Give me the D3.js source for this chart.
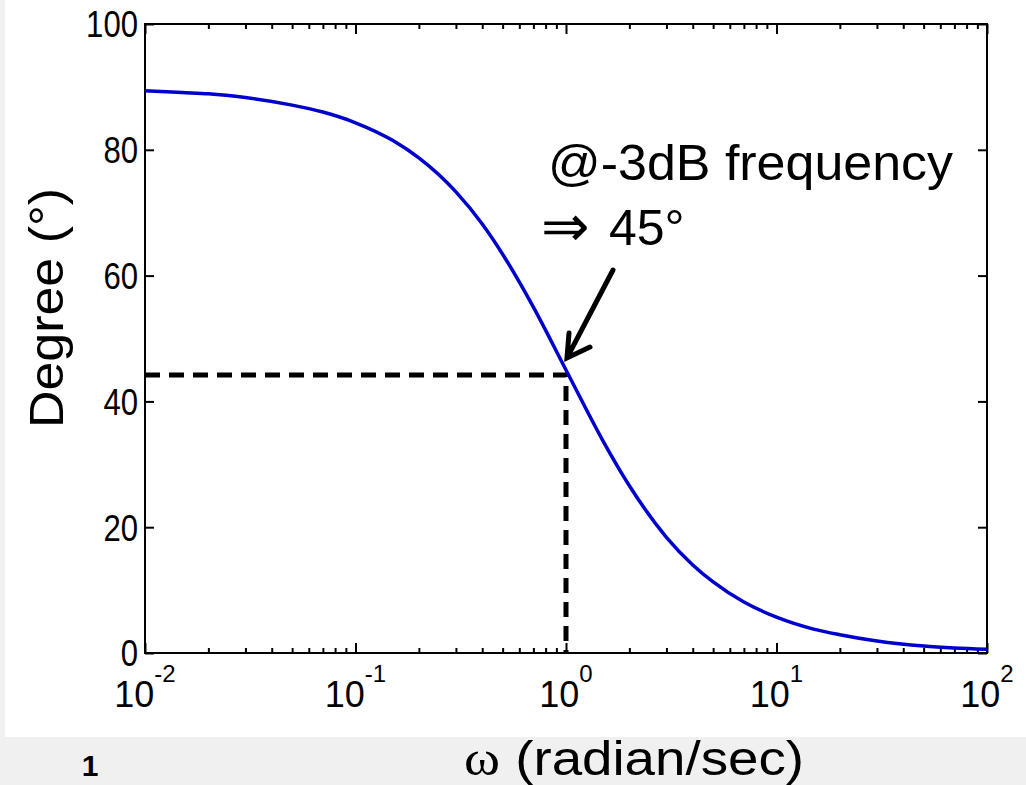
<!DOCTYPE html>
<html>
<head>
<meta charset="utf-8">
<script src="https://cdn.jsdelivr.net/npm/d3@7"></script>
<style>
  body { margin: 0; background: #f0f0f0; }
  svg { display: block; }
  .tick text { font-family: "Liberation Sans", Arial, sans-serif; }
</style>
</head>
<body>
<div id="chart"></div>
<script>
// frequency (rad/s) and phase (degrees)
var omega  = [0.01, 0.015, 0.02, 0.03, 0.05, 0.07, 0.1, 0.15, 0.2, 0.3, 0.4, 0.5, 0.7, 1,
              1.5, 2, 3, 4, 5, 7, 10, 15, 20, 30, 50, 70, 100];
var degree = [89.4, 89.1, 88.9, 88.3, 87.1, 86.0, 84.3, 81.5, 78.7, 73.3, 68.2, 63.4, 55.0, 45.0,
              33.7, 26.6, 18.4, 14.0, 11.3, 8.1, 5.7, 3.8, 2.9, 1.9, 1.1, 0.8, 0.6];

var xMajor = [0.01, 0.1, 1, 10, 100];
var xExp   = ["-2", "-1", "0", "1", "2"];
var yTicks = [0, 20, 40, 60, 80, 100];

// dashed guide at the -3dB point
var cutoff = { w: 1, deg: 44.2 };

var W = 1026, H = 785;
var margin = { top: 24, right: 39, bottom: 132, left: 145 },
    width = W - margin.left - margin.right,
    height = H - margin.top - margin.bottom;

var svg = d3.select("#chart").append("svg")
    .attr("width", W)
    .attr("height", H);

// white figure panel
svg.append("rect")
    .attr("x", 5).attr("y", 0)
    .attr("width", W - 5).attr("height", 737)
    .attr("fill", "#fff");

var g = svg.append("g")
    .attr("transform", "translate(" + margin.left + "," + margin.top + ")");

var x = d3.scaleLog().domain([0.01, 100]).range([0, width]);
var y = d3.scaleLinear().domain([0, 100]).range([height, 0]);

var minor = x.ticks().filter(function (d) { return xMajor.indexOf(d) < 0; });

// ticks point inward on all four sides
function styleAxis(sel) {
    sel.selectAll("path").remove();
    sel.selectAll("line").attr("stroke", "#000").attr("stroke-width", 2);
}

g.append("g").attr("transform", "translate(0," + height + ")")
    .call(d3.axisBottom(x).tickValues(minor).tickSize(-5).tickFormat(""))
    .call(styleAxis);
g.append("g").attr("transform", "translate(0," + height + ")")
    .call(d3.axisBottom(x).tickValues(xMajor).tickSize(-10).tickFormat(""))
    .call(styleAxis);
g.append("g")
    .call(d3.axisTop(x).tickValues(minor).tickSize(-5).tickFormat(""))
    .call(styleAxis);
g.append("g")
    .call(d3.axisTop(x).tickValues(xMajor).tickSize(-10).tickFormat(""))
    .call(styleAxis);

g.append("g")
    .call(d3.axisLeft(y).tickValues(yTicks).tickSize(-9).tickPadding(7))
    .call(styleAxis)
    .selectAll("text")
    .attr("font-size", 36)
    .attr("fill", "#000")
    .attr("dy", "0.36em")
    .attr("textLength", function (d) { return String(d).length * 17.3; })
    .attr("lengthAdjust", "spacingAndGlyphs");
g.append("g").attr("transform", "translate(" + width + ",0)")
    .call(d3.axisRight(y).tickValues(yTicks).tickSize(-9).tickFormat(""))
    .call(styleAxis);

// x labels as 10 with superscript
var xl = g.append("g").selectAll("text")
    .data(xMajor)
    .enter().append("text")
    .attr("x", function (d) { return x(d); })
    .attr("y", height + 54)
    .attr("text-anchor", "middle")
    .attr("font-family", "'Liberation Sans', Arial, sans-serif")
    .attr("font-size", 36);
xl.append("tspan").text("10");
xl.append("tspan")
    .attr("font-size", 24)
    .attr("dy", -25)
    .text(function (d, i) { return xExp[i]; });

// box
g.append("rect")
    .attr("width", width).attr("height", height)
    .attr("fill", "none")
    .attr("stroke", "#000")
    .attr("stroke-width", 2);

// dashed guide lines
g.append("path")
    .attr("d", "M" + x(0.01) + "," + y(cutoff.deg) +
               "H" + x(cutoff.w) + "V" + y(0))
    .attr("fill", "none")
    .attr("stroke", "#000")
    .attr("stroke-width", 5)
    .attr("stroke-dasharray", "15,9");

// phase curve
var line = d3.line()
    .x(function (d, i) { return x(omega[i]); })
    .y(function (d) { return y(d); })
    .curve(d3.curveMonotoneX);

g.append("path")
    .datum(degree)
    .attr("d", line)
    .attr("fill", "none")
    .attr("stroke", "#0000cc")
    .attr("stroke-width", 3.5);

// annotation
var ann = svg.append("g")
    .attr("font-family", "'Liberation Sans', Arial, sans-serif")
    .attr("font-size", 50)
    .attr("fill", "#000");
ann.append("text").attr("x", 548).attr("y", 180)
    .attr("textLength", 405)
    .attr("lengthAdjust", "spacingAndGlyphs")
    .text("@-3dB frequency");
ann.append("text").attr("x", 541).attr("y", 246)
    .attr("font-family", "'DejaVu Sans', sans-serif")
    .attr("font-size", 58)
    .text("\u21D2");
ann.append("text").attr("x", 609).attr("y", 245).text("45\u00B0");

// arrow pointing to the -3dB point
var tipX = x(cutoff.w) + margin.left + 1, tipY = y(45) + margin.top - 12;
svg.append("path")
    .attr("d", "M613,270L" + tipX + "," + tipY +
               "M590,347L" + tipX + "," + tipY + "L569,333")
    .attr("fill", "none")
    .attr("stroke", "#000")
    .attr("stroke-width", 5)
    .attr("stroke-linecap", "round");

// axis titles
svg.append("text")
    .attr("transform", "translate(63,308) rotate(-90)")
    .attr("text-anchor", "middle")
    .attr("font-family", "'Liberation Sans', Arial, sans-serif")
    .attr("font-size", 49)
    .attr("textLength", 240)
    .attr("lengthAdjust", "spacingAndGlyphs")
    .text("Degree (\u00B0)");

var xt = svg.append("text")
    .attr("x", 634).attr("y", 775)
    .attr("text-anchor", "middle")
    .attr("font-family", "'Liberation Sans', Arial, sans-serif")
    .attr("font-size", 48)
    .attr("textLength", 340)
    .attr("lengthAdjust", "spacingAndGlyphs");
xt.append("tspan").attr("font-family", "'Liberation Serif', 'Times New Roman', serif").text("\u03C9");
xt.append("tspan").text(" (radian/sec)");

// slide number at the bottom edge
svg.append("text")
    .attr("x", 90).attr("y", 776)
    .attr("text-anchor", "middle")
    .attr("font-family", "'Liberation Sans', Arial, sans-serif")
    .attr("font-weight", "bold")
    .attr("font-size", 30)
    .text("1");
</script>
</body>
</html>
